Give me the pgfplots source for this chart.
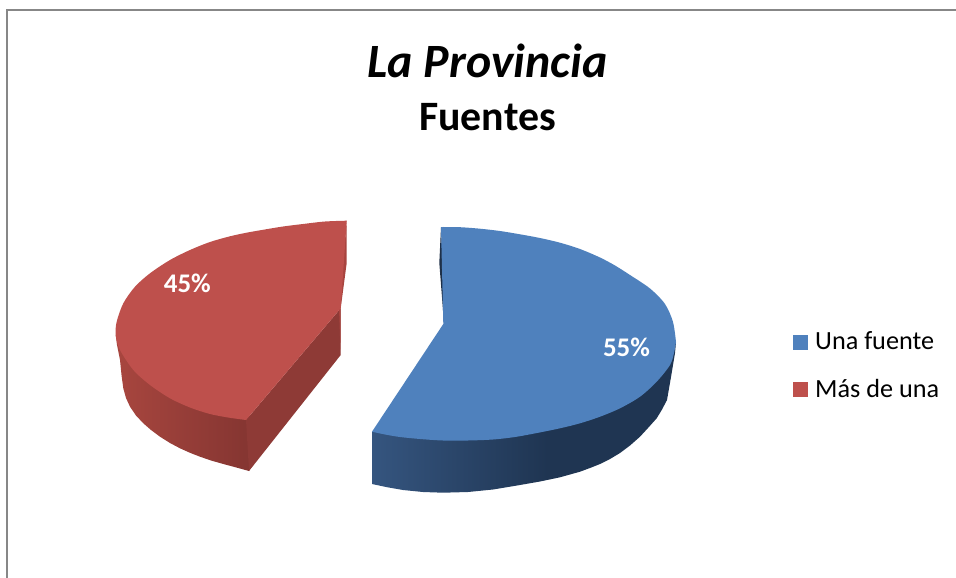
\documentclass[border=0pt]{standalone}
\usepackage{fontspec}
\setmainfont{Carlito}
\usepackage{pgfplots}
\pgfplotsset{compat=1.18}
\definecolor{blueTop}{HTML}{4F81BD}
\definecolor{blueInner}{HTML}{1E3048}
\definecolor{blueA}{HTML}{35557F}
\definecolor{blueB}{HTML}{1F3552}
\definecolor{redTop}{HTML}{BE504C}
\definecolor{redFront}{HTML}{8E3A36}
\definecolor{redSliver}{HTML}{A8443F}
\definecolor{redA}{HTML}{A8463F}
\definecolor{redB}{HTML}{843531}
\definecolor{frameGray}{HTML}{878787}
% dark from the left corner up to x=547, flat after that
\pgfdeclarehorizontalshading{blueside}{100bp}{color(0bp)=(blueA); color(25bp)=(blueA); color(53.8bp)=(blueB); color(100bp)=(blueB)}
\begin{document}
\begin{tikzpicture}
\begin{axis}[
  width=956bp, height=578bp, scale only axis,
  xmin=0, xmax=956, ymin=0, ymax=578,
  y dir=reverse,
  axis lines=none,
  title={{\fontsize{48}{50}\selectfont\itshape La Provincia}\\[24bp]{\fontsize{42}{44}\selectfont Fuentes}},
  title style={at={(axis cs:487.5,50)}, anchor=north, align=center, font=\bfseries, inner sep=0pt},
  legend style={at={(axis cs:793,329.5)}, anchor=north west, draw=none, fill=none,
    font=\fontsize{26.3}{30}\selectfont, row sep=24bp, inner sep=0pt},
  legend cell align=left,
  legend image code/.code={\fill[#1] (0bp,-8.5bp) rectangle (15bp,6.5bp); \path (20bp,0bp);},
]
\path (axis cs:0,0) (axis cs:956,578);
% frame of the chart area
\addplot[forget plot, frameGray, line width=2bp] coordinates {(7,578) (7,10) (956,10)};

% blue slice: outer side, inner sliver
\addplot[forget plot, draw=none, shading=blueside] coordinates {
  (372,431.7) (372,484) (387,487.2) (403,490) (423,492) (443,492.7) (468,492) (493,489.5) (520,485)
  (540,481.5) (560,477.3) (580,471.7) (590,468) (600,464) (610,459) (620,453) (630,445.5) (640,436.7)
  (648,428) (656.7,418.3) (662,409.5) (667,400) (671,377) (675,353) (676,342)
};
\addplot[forget plot, draw=none, fill=blueInner] coordinates {
  (441,227.3) (439.3,263) (444,323) (448.3,316.7) (441.7,243)
};
% blue slice: top, inner part and the two rim arcs
\addplot[forget plot, draw=none, fill=blueTop] coordinates {
  (443.3,324) (441,227) (560,250) (650,300) (676,342) (600,410) (470,435) (372,431.7)
};
\addplot[smooth, draw=none, fill=blueTop] coordinates {
  (441,227) (460,227.2) (480,228.7) (500,231) (520,234.3) (540,238) (560,242.7) (580,249) (600,257.5)
  (615,265.5) (630,275) (650,288.5) (665,304) (673,322) (676,342)
};
\addlegendentry{Una fuente}
\addplot[forget plot, smooth, draw=none, fill=blueTop] coordinates {
  (676,342) (674,353) (670,365) (656.7,381.7) (640,396.7) (620,408.3) (600,416.7) (580,423.3) (560,428.3)
  (537,433) (515,437) (493,439.5) (468,440.5) (443,440.5) (420,439) (400,437) (385,434.5) (372,431.7)
};

% red slice: outer side, cut face, back sliver
\addplot[forget plot, draw=none, left color=redA, right color=redB] coordinates {
  (115.7,335) (117,345) (120,360) (121.5,375) (123.3,388.3) (126,398) (130,406.7) (136,415.5) (143.3,423.3)
  (151,430) (160,436.7) (170,443) (180,448.3) (190,452.8) (200,456.7) (211,460.5) (223.3,464) (236,467.4)
  (249,471) (252,466) (250,416)
};
\addplot[forget plot, draw=none, fill=redFront] coordinates {
  (246,420) (340.7,308.3) (340.7,355) (249,471)
};
\addplot[forget plot, draw=none, fill=redSliver] coordinates {
  (346.7,220.7) (346.7,263) (340.7,308.3) (340.7,355) (339,309)
};
% red slice: top
\addplot[forget plot, draw=none, fill=redTop] coordinates {
  (340.7,308.3) (346.7,220.7) (200,260) (125,330) (200,405) (246,420)
};
\addplot[smooth, draw=none, fill=redTop] coordinates {
  (346.7,220.7) (325,221.5) (303,224) (283,226.5) (263,229.8) (246,232.8) (230,236.3) (210,242) (190,250) (170,260)
  (150,273.3) (135,286.7) (123.3,303.3) (116.7,321.7) (115.7,335)
  (120,350) (133.3,370) (150,385) (170,398.3) (190,407.5) (210,414)
  (228,417.5) (246,420)
};
\addlegendentry{Más de una}

\node[white, font=\bfseries\fontsize{27}{30}\selectfont] at (axis cs:626.5,347) {55\%};
\node[white, font=\bfseries\fontsize{27}{30}\selectfont] at (axis cs:187.3,283) {45\%};
\end{axis}
\end{tikzpicture}
\end{document}
